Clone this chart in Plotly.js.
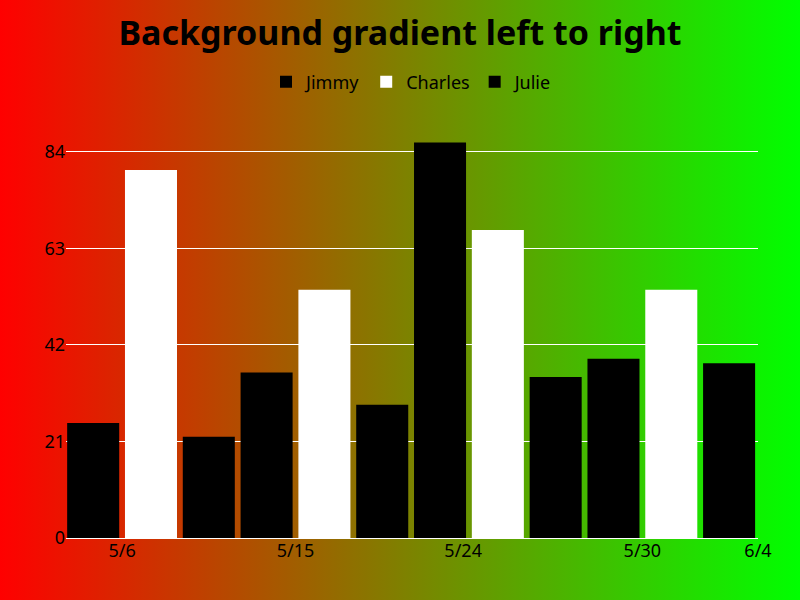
<!DOCTYPE html>
<html>
<head>
<script src="https://cdn.plot.ly/plotly-3.0.1.min.js"></script>
<style>
  body { margin: 0; }
  #plot { width: 800px; height: 600px; background: linear-gradient(to right, #ff0000, #00ff00); }
</style>
</head>
<body>
<div id="plot"></div>
<script>
const jimmyX = [0, 3, 6, 9]
const charlesX = [1, 4, 7, 10]
const julieX = [2, 5, 8, 11]
const jimmy = [25, 36, 86, 39]
const charles = [80, 54, 67, 54]
const julie = [22, 29, 35, 38]
const tickPos = [0.5, 3.5, 6.4, 9.5, 11.5]
const tickLabels = ["5/6", "5/15", "5/24", "5/30", "6/4"]

const mk = (name, x, y, color) => ({
  name: name, x: x, y: y, type: 'bar', width: 0.9,
  marker: {color: color}
})

const layout = {
  width: 800, height: 600,
  paper_bgcolor: 'rgba(0,0,0,0)',
  plot_bgcolor: 'rgba(0,0,0,0)',
  font: {family: 'Noto Sans', size: 18, color: '#000'},
  title: {text: '<b>Background gradient left to right</b>', font: {size: 34}, x: 0.5, y: 0.965},
  showlegend: true,
  legend: {orientation: 'h', x: 0.5, xanchor: 'center', y: 1.12, yanchor: 'middle', font: {size: 18}},
  margin: {l: 66, r: 42, t: 131, b: 62},
  barmode: 'overlay',
  xaxis: {range: [-0.47, 11.5], tickvals: tickPos, ticktext: tickLabels, showgrid: false, zeroline: false},
  yaxis: {range: [0, 88.5], tickvals: [0, 21, 42, 63, 84], gridcolor: '#fff', zeroline: true, zerolinecolor: '#fff', ticks: ''}
}

Plotly.newPlot('plot', [
  mk('Jimmy', jimmyX, jimmy, '#000'),
  mk('Charles', charlesX, charles, '#fff'),
  mk('Julie', julieX, julie, '#000')
], layout, {displayModeBar: false})
</script>
</body>
</html>
